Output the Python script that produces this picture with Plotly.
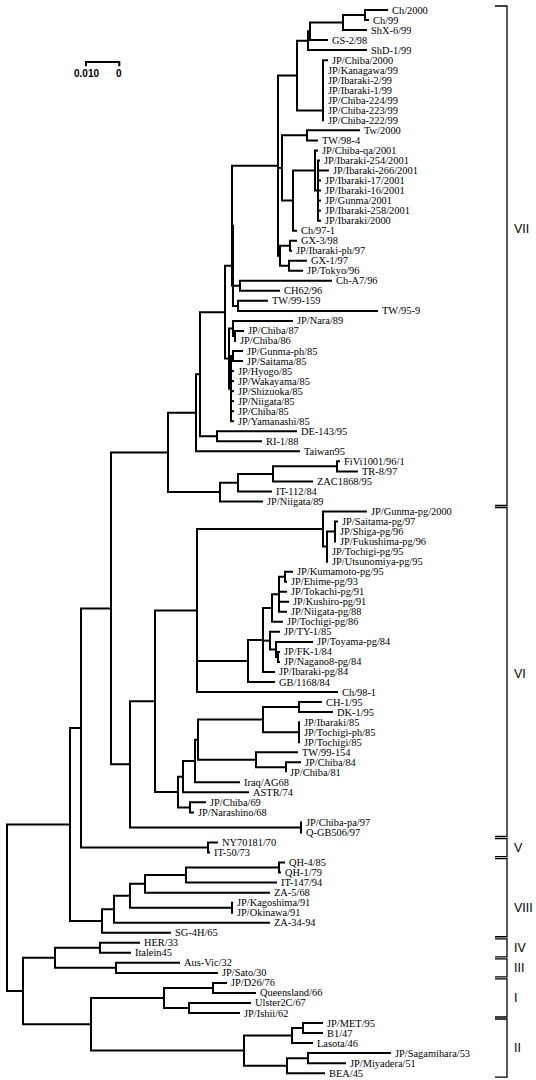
import plotly.graph_objects as go

# Distances from the root, in units of 0.0001 substitutions per site.
# Internal node: [depth, child, child, ...]; leaf: ("name", depth)
UNIT = 1e-4

clade_VII = [483,
    [567,
        [579,
            [654,
                [678,
                    [675,
                        [813,
                            [870,
                                [903,
                                    [909,
                                        [1008,
                                            [1074, ("Ch/2000", 1143), ("Ch/99", 1086)],
                                            ("ShX-6/99", 1080)],
                                        ("GS-2/98", 963)],
                                    ("ShD-1/99", 1080)],
                                [948, [948, [948, [948, [948, [948,
                                    ("JP/Chiba/2000", 963), ("JP/Kanagawa/99", 951)],
                                    ("JP/Ibaraki-2/99", 951)], ("JP/Ibaraki-1/99", 951)],
                                    ("JP/Chiba-224/99", 951)], ("JP/Chiba-223/99", 951)],
                                    ("JP/Chiba-222/99", 951)]],
                            [825,
                                [900, ("Tw/2000", 1059), ("TW/98-4", 933)],
                                [858,
                                    [924, ("JP/Chiba-qa/2001", 933),
                                        [933, ("JP/Ibaraki-254/2001", 939), ("JP/Ibaraki-266/2001", 966),
                                              ("JP/Ibaraki-17/2001", 942), ("JP/Ibaraki-16/2001", 942),
                                              ("JP/Gunma/2001", 942), ("JP/Ibaraki-258/2001", 942),
                                              ("JP/Ibaraki/2000", 942)]],
                                    ("Ch/97-1", 870)]],
                            [819,
                                [849, ("GX-3/98", 870), ("JP/Ibaraki-ph/97", 855)],
                                [846, ("GX-1/97", 900), ("JP/Tokyo/96", 888)]]],
                        [699, ("Ch-A7/96", 975), ("CH62/96", 819)]],
                    [693, ("TW/99-159", 783), ("TW/95-9", 1113)]],
                [666,
                    [678, ("JP/Nara/89", 858),
                        [684, ("JP/Chiba/87", 711), ("JP/Chiba/86", 687)]],
                    [672,
                        [678, ("JP/Gunma-ph/85", 708), ("JP/Saitama/85", 708)],
                        ("JP/Hyogo/85", 681), ("JP/Wakayama/85", 681), ("JP/Shizuoka/85", 681),
                        ("JP/Niigata/85", 681), ("JP/Chiba/85", 681), ("JP/Yamanashi/85", 681)]]],
            [630, ("DE-143/95", 870), ("RI-1/88", 765)]],
        ("Taiwan95", 879)],
    [639,
        [693,
            [798,
                [990, ("FiVi1001/96/1", 999), ("TR-8/97", 1053)],
                ("ZAC1868/95", 918)],
            ("IT-112/84", 795)],
        ("JP/Niigata/89", 768)]]

clade_VI = [369,
    [444,
        [570,
            [948, ("JP/Gunma-pg/2000", 1080),
                [960,
                    [984, ("JP/Saitama-pg/97", 993), ("JP/Shiga-pg/96", 987), ("JP/Fukushima-pg/96", 987)],
                    ("JP/Tochigi-pg/95", 963), ("JP/Utsunomiya-pg/95", 963)]],
            [723,
                [768,
                    [795,
                        [816,
                            [834, ("JP/Kumamoto-pg/95", 858), ("JP/Ehime-pg/93", 840)],
                            ("JP/Tokachi-pg/91", 840), ("JP/Kushiro-pg/91", 846), ("JP/Niigata-pg/88", 840)],
                        ("JP/Tochigi-pg/86", 828)],
                    [789, ("JP/TY-1/85", 819),
                        [807, ("JP/Toyama-pg/84", 918),
                            [813, ("JP/FK-1/84", 819), ("JP/Nagano8-pg/84", 819)]]],
                    ("JP/Ibaraki-pg/84", 804)],
                ("GB/1168/84", 804)],
            ("Ch/98-1", 993)],
        [513,
            [528,
                [564,
                    [573,
                        [768,
                            [876, ("CH-1/95", 945), ("DK-1/95", 978)],
                            [876, ("JP/Ibaraki/85", 879), ("JP/Tochigi-ph/85", 879), ("JP/Tochigi/85", 879)]],
                        [747, ("TW/99-154", 873),
                            [837, ("JP/Chiba/84", 882), ("JP/Chiba/81", 837)]]],
                    ("Iraq/AG68", 699)],
                ("ASTR/74", 726)],
            [549, ("JP/Chiba/69", 597), ("JP/Narashino/68", 561)]]],
    [882, ("JP/Chiba-pa/97", 885), ("Q-GB506/97", 885)]]

clade_V = [603, ("NY70181/70", 633), ("IT-50/73", 609)]

clade_VIII = [285,
    [321,
        [369,
            [414,
                [537,
                    [816, ("QH-4/85", 834), ("QH-1/79", 822)],
                    ("IT-147/94", 810)],
                ("ZA-5/68", 789)],
            [675, ("JP/Kagoshima/91", 678), ("JP/Okinawa/91", 678)]],
        ("ZA-34-94", 789)],
    ("SG-4H/65", 492)]

clade_IV = [279, ("HER/33", 399), ("Italein45", 372)]
clade_III = [327, ("Aus-Vic/32", 519), ("JP/Sato/30", 633)]
clade_I = [471,
    [618, ("JP/D26/76", 660), ("Queensland/66", 747)],
    [546, ("Ulster2C/67", 732), ("JP/Ishii/62", 699)]]
clade_II = [711,
    [855, [888, ("JP/MET/95", 948), ("B1/47", 948)], ("Lasota/46", 918)],
    [840, [903, ("JP/Sagamihara/53", 1152), ("JP/Miyadera/51", 1017)], ("BEA/45", 954)]]

tree = [0,
    [189, [222, [312, clade_VII, clade_VI], clade_V], clade_VIII],
    [48, [144, clade_IV, clade_III], [252, clade_I, clade_II]]]

group_names = ["VII", "VI", "V", "VIII", "IV", "III", "I", "II"]
group_clades = [clade_VII, clade_VI, clade_V, clade_VIII, clade_IV, clade_III, clade_I, clade_II]
group_label_shift = [-2.7, 0.2, 0, 1.0, 0, 0, 0, 0]   # in leaf rows

scale_value = 0.010

# ---------------------------------------------------------------
def is_leaf(n):
    return isinstance(n, tuple)

leaf_order = []
def collect(n):
    if is_leaf(n):
        leaf_order.append(n)
    else:
        for c in n[1:]:
            collect(c)
collect(tree)
leaf_index = {name: i for i, (name, _) in enumerate(leaf_order)}

xs, ys = [], []
def layout(n):
    if is_leaf(n):
        return n[1] * UNIT, leaf_index[n[0]]
    d = n[0] * UNIT
    kids = [layout(c) for c in n[1:]]
    y0, y1 = kids[0][1], kids[-1][1]
    xs.extend([kids[0][0], d, d, kids[-1][0], None])
    ys.extend([y0, y0, y1, y1, None])
    for kx, ky in kids[1:-1]:
        xs.extend([d, kx, None])
        ys.extend([ky, ky, None])
    return d, (y0 + y1) / 2

layout(tree)

fig = go.Figure()
fig.add_trace(go.Scatter(x=xs, y=ys, mode="lines",
                         line=dict(color="black", width=2), hoverinfo="skip",
                         showlegend=False))

annotations = []
for name, dep in leaf_order:
    annotations.append(dict(x=dep * UNIT, y=leaf_index[name], text=name,
                            xanchor="left", yanchor="middle", xshift=1.5,
                            showarrow=False,
                            font=dict(family="Liberation Serif, Times New Roman, serif",
                                      size=10.4, color="black")))

def clade_leaves(n, out):
    if is_leaf(n):
        out.append(leaf_index[n[0]])
    else:
        for c in n[1:]:
            clade_leaves(c, out)
    return out

shapes = []
BX0, BX1 = 495 / 536, 507 / 536
for gname, clade, sh in zip(group_names, group_clades, group_label_shift):
    idx = clade_leaves(clade, [])
    top, bot = min(idx) - 0.4, max(idx) + 0.4
    shapes.append(dict(type="path", xref="paper", yref="y",
                       path=f"M {BX0} {top} L {BX1} {top} L {BX1} {bot} L {BX0} {bot}",
                       line=dict(color="black", width=1.3)))
    annotations.append(dict(x=512 / 536, xref="paper", y=(top + bot) / 2 + sh, yref="y",
                            text=gname, xanchor="left", yanchor="middle", showarrow=False,
                            font=dict(family="Liberation Sans Narrow, Liberation Sans, Arial, sans-serif",
                                      size=12.5, color="black")))

# scale bar (0.010 substitutions per site)
sb_x0 = 0.0237
sb_y, sb_tick = 5.18, 5.6
shapes.append(dict(type="path", xref="x", yref="y",
                   path=f"M {sb_x0} {sb_tick} L {sb_x0} {sb_y} L {sb_x0 + scale_value} {sb_y} L {sb_x0 + scale_value} {sb_tick}",
                   line=dict(color="black", width=2)))
for xv, txt in [(sb_x0, f"{scale_value:.3f}"), (sb_x0 + scale_value, "0")]:
    annotations.append(dict(x=xv, y=6.3, text=txt, xanchor="center", yanchor="middle",
                            showarrow=False,
                            font=dict(family="Liberation Sans, Arial, sans-serif",
                                      size=10, color="black", weight="bold")))

fig.update_layout(
    width=536, height=1080, autosize=False,
    margin=dict(l=0, r=0, t=0, b=0),
    paper_bgcolor="white", plot_bgcolor="white",
    xaxis=dict(visible=False, range=[-0.0021, 0.1587], fixedrange=True),
    yaxis=dict(visible=False, range=[106.68, -0.997], fixedrange=True),
    shapes=shapes, annotations=annotations,
)
fig.write_html("out.html", config={"displayModeBar": False},
               post_script="document.body.style.margin='0';document.body.style.overflow='hidden';")
